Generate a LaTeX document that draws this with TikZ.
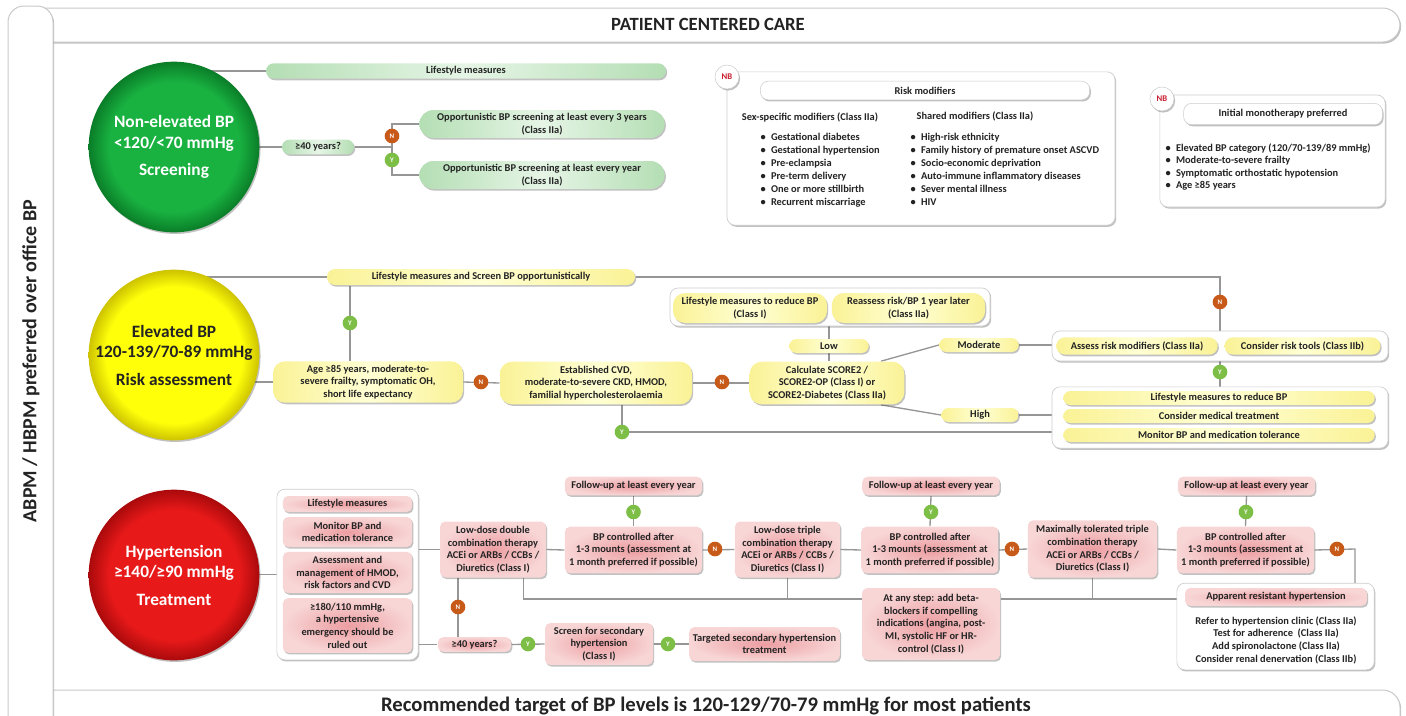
\documentclass[tikz,border=0pt]{standalone}
\usepackage{fontspec}
\setmainfont{Carlito}
\usetikzlibrary{shapes.misc,shadows,backgrounds}

\definecolor{linegray}{RGB}{150,150,150}
\definecolor{framegray}{RGB}{200,200,200}
\definecolor{txt}{RGB}{35,35,35}
\definecolor{cGa}{RGB}{25,178,65}
\definecolor{cGb}{RGB}{10,125,40}
\definecolor{cYa}{RGB}{255,255,10}
\definecolor{cYb}{RGB}{205,195,0}
\definecolor{cRa}{RGB}{232,25,25}
\definecolor{cRb}{RGB}{170,10,12}
\definecolor{gboxA}{RGB}{180,222,180}
\definecolor{gboxB}{RGB}{230,245,230}
\definecolor{yboxA}{RGB}{250,242,150}
\definecolor{yboxB}{RGB}{255,255,212}
\definecolor{rboxIn}{RGB}{236,158,162}
\definecolor{rboxOut}{RGB}{248,214,214}
\definecolor{grpdraw}{RGB}{205,205,205}
\definecolor{markN}{RGB}{200,90,25}
\definecolor{markY}{RGB}{125,190,70}
\definecolor{nbred}{RGB}{200,30,45}

\pgfdeclareradialshading{discG}{\pgfpoint{0bp}{0bp}}{color(0bp)=(cGa); color(19bp)=(cGa); color(25bp)=(cGb); color(50bp)=(cGb)}
\pgfdeclareradialshading{discY}{\pgfpoint{0bp}{0bp}}{color(0bp)=(cYa); color(20bp)=(cYa); color(25bp)=(cYb); color(50bp)=(cYb)}
\pgfdeclareradialshading{discR}{\pgfpoint{0bp}{0bp}}{color(0bp)=(cRa); color(19bp)=(cRa); color(25bp)=(cRb); color(50bp)=(cRb)}

\newcommand{\boxfont}{\fontsize{7.8}{9.5}\selectfont\bfseries}
\newcommand{\listfont}{\fontsize{7.8}{9.7}\selectfont\bfseries}
\newcommand{\circfont}{\fontsize{13}{15.5}\selectfont\bfseries}
\newcommand{\markfont}{\fontsize{5.2}{5.2}\selectfont\bfseries}
\newcommand{\itm}{\textbullet\hspace{4pt}}

\tikzset{every picture/.style={line width=0.75pt}}
\tikzset{
  conn/.style={draw=linegray, line width=1pt},
  shad/.style={drop shadow={shadow xshift=0.9pt, shadow yshift=-1.2pt, opacity=0.35, fill=black!70}},
  bx/.style={font=\boxfont, text=txt, align=center, inner sep=1pt, shad},
  plain/.style={font=\boxfont, text=txt, inner sep=0.75pt},
  gpill/.style={bx, rounded rectangle, left color=gboxA, right color=gboxA, middle color=gboxB},
  ypill/.style={bx, rounded rectangle, left color=yboxA, right color=yboxA, middle color=yboxB},
  ybox/.style={bx, rectangle, rounded corners=9pt, left color=yboxA, right color=yboxA, middle color=yboxB},
  rbox/.style={bx, rectangle, rounded corners=4pt, shading=radial, inner color=rboxIn, outer color=rboxOut},
  wbox/.style={bx, rectangle, rounded corners=6pt, fill=white, draw=grpdraw, line width=0.4pt},
  grpbox/.style={rectangle, rounded corners=6pt, fill=white, draw=grpdraw, line width=0.5pt, shad, inner sep=0pt},
  bigcirc/.style={circle, minimum size=128pt, font=\circfont, align=center, inner sep=0pt, shad},
  nmark/.style={circle, fill=markN, text=white, font=\markfont, inner sep=0pt, minimum size=11pt},
  ymark/.style={circle, fill=markY, text=white, font=\markfont, inner sep=0pt, minimum size=11pt},
  nbmark/.style={circle, fill=white, draw=grpdraw, line width=0.4pt, text=nbred, font=\fontsize{6.5}{6.5}\selectfont\bfseries, inner sep=0pt, minimum size=18pt, shad}
}

\begin{document}
\begin{tikzpicture}[x=0.75pt,y=0.75pt,yscale=-1,xscale=1]
\useasboundingbox (0,0) rectangle (1406,715);

%Shape: top bar
\draw [fill=white, draw=framegray, rounded corners=13pt, shad] (30,8) -- (1400,8) -- (1400,42) -- (30,42) -- cycle ;
%Shape: bottom bar
\draw [fill=white, draw=framegray, rounded corners=13pt, shad] (30,690) -- (1400,690) -- (1400,745) -- (30,745) -- cycle ;
%Shape: side panel
\draw [fill=white, draw=framegray, rounded corners=12pt, shad] (8,6) -- (53,6) -- (53,735) -- (8,735) -- cycle ;

% Text Node
\node (title) [font=\fontsize{14}{16}\selectfont\bfseries, text=txt] at (708,24) {PATIENT CENTERED CARE};
% Text Node
\node (side) [rotate=90, font=\fontsize{15}{18}\selectfont\bfseries, text=txt] at (31,361) {ABPM / HBPM preferred over office BP};
% Text Node
\node (target) [font=\fontsize{15.5}{18}\selectfont\bfseries, text=txt] at (706,706) {Recommended target of BP levels is 120-129/70-79 mmHg for most patients};

%Shape: Circle
\node (gcirc) [bigcirc, shading=discG, text=white] at (174,147) {Non-elevated BP\\<120/<70 mmHg\\[5pt]Screening};
%Shape: Circle
\node (ycirc) [bigcirc, shading=discY, text=txt] at (174,355) {Elevated BP\\120-139/70-89 mmHg\\[5pt]Risk assessment};
%Shape: Circle
\node (rcirc) [bigcirc, shading=discR, text=white] at (174,575) {Hypertension\\≥140/≥90 mmHg\\[5pt]Treatment};

% Screening
\node (lifeG) [gpill, minimum width=302pt, minimum height=11.5pt] at (466,71) {Lifestyle measures};
\node (age40G) [gpill, minimum width=56pt, minimum height=11pt] at (318,147) {≥40 years?};
\node (opp3) [gpill, minimum width=186pt, minimum height=21pt] at (542,124) {Opportunistic BP screening at least every 3 years\\(Class IIa)};
\node (opp1) [gpill, minimum width=186pt, minimum height=21pt] at (542,175) {Opportunistic BP screening at least every year\\(Class IIa)};
\node (nG) [nmark] at (392,136) {N};
\node (yG) [ymark] at (392,160) {Y};

% Risk modifiers
\node (rmbox) [grpbox, minimum width=291pt, minimum height=115pt] at (921,148.5) {};
\node (nb1) [nbmark] at (727,77) {NB};
\node (rmtitle) [wbox, minimum width=247pt, minimum height=14pt] at (925,90.5) {Risk modifiers};
\node (sexhead) [plain] at (810,117) {Sex-specific modifiers (Class IIa)};
\node (sharedhead) [plain] at (975,116) {Shared modifiers (Class IIa)};
\node (sexlist) [plain, font=\listfont, anchor=north west, align=left] at (759,132) {\itm Gestational diabetes\\\itm Gestational hypertension\\\itm Pre-eclampsia\\\itm Pre-term delivery\\\itm One or more stillbirth\\\itm Recurrent miscarriage};
\node (sharedlist) [plain, font=\listfont, anchor=north west, align=left] at (909,132) {\itm High-risk ethnicity\\\itm Family history of premature onset ASCVD\\\itm Socio-economic deprivation\\\itm Auto-immune inflammatory diseases\\\itm Sever mental illness\\\itm HIV};

% Initial monotherapy
\node (imbox) [grpbox, minimum width=169pt, minimum height=84pt] at (1272.5,151) {};
\node (nb2) [nbmark] at (1162,99) {NB};
\node (imtitle) [wbox, minimum width=149pt, minimum height=16pt] at (1283,114) {Initial monotherapy preferred};
\node (imlist) [plain, font=\fontsize{7.8}{9.3}\selectfont\bfseries, anchor=north west, align=left] at (1164,142) {\itm Elevated BP category (120/70-139/89 mmHg)\\\itm Moderate-to-severe frailty\\\itm Symptomatic orthostatic hypotension\\\itm Age ≥85 years};

% Risk assessment
\node (lifeY) [ypill, minimum width=233pt, minimum height=12pt] at (481,277) {Lifestyle measures and Screen BP opportunistically};
\node (age85) [ybox, minimum width=142.5pt, minimum height=31pt] at (368,382) {Age ≥85 years, moderate-to-\\severe frailty, symptomatic OH,\\short life expectancy};
\node (cvd) [ybox, minimum width=144pt, minimum height=32pt] at (596,383) {Established CVD,\\moderate-to-severe CKD, HMOD,\\familial hypercholesterolaemia};
\node (score) [ybox, minimum width=116pt, minimum height=32pt] at (827,383) {Calculate SCORE2 /\\SCORE2-OP (Class I) or\\SCORE2-Diabetes (Class IIa)};
\node (low) [ypill, minimum width=61.5pt, minimum height=10.5pt] at (829,346) {Low};
\node (lowgrp) [grpbox, minimum width=240pt, minimum height=28.5pt] at (830,307) {};
\node (lifelow) [ybox, minimum width=115.5pt, minimum height=22.5pt] at (750,308) {Lifestyle measures to reduce BP\\(Class I)};
\node (reass) [ybox, minimum width=115pt, minimum height=22.5pt] at (908.5,308) {Reassess risk/BP 1 year later\\(Class IIa)};
\node (mod) [ypill, minimum width=61.5pt, minimum height=10.5pt] at (979,345) {Moderate};
\node (modgrp) [grpbox, minimum width=252pt, minimum height=22.5pt] at (1220,346) {};
\node (assess) [ypill, minimum width=123pt, minimum height=13pt] at (1137,346) {Assess risk modifiers (Class IIa)};
\node (tools) [ypill, minimum width=119pt, minimum height=13pt] at (1302.5,346) {Consider risk tools (Class IIb)};
\node (high) [ypill, minimum width=60pt, minimum height=10.5pt] at (980,415) {High};
\node (highgrp) [grpbox, minimum width=252pt, minimum height=46pt] at (1220,417.5) {};
\node (hi1) [ypill, minimum width=235.5pt, minimum height=10.5pt] at (1219,398) {Lifestyle measures to reduce BP};
\node (hi2) [ypill, minimum width=235.5pt, minimum height=10.5pt] at (1219,416) {Consider medical treatment};
\node (hi3) [ypill, minimum width=235.5pt, minimum height=10.5pt] at (1219,435) {Monitor BP and medication tolerance};
\node (yA) [ymark] at (350,323) {Y};
\node (nA) [nmark] at (481,382) {N};
\node (nB) [nmark] at (722,382) {N};
\node (yB) [ymark] at (622,432) {Y};
\node (nC) [nmark] at (1220,302) {N};
\node (yC) [ymark] at (1220,372) {Y};

% Treatment
\node (rgrp) [grpbox, minimum width=106pt, minimum height=128pt] at (347.5,574.5) {};
\node (rb1) [rbox, minimum width=97pt, minimum height=12pt] at (347.5,504) {Lifestyle measures};
\node (rb2) [rbox, minimum width=97pt, minimum height=22.5pt] at (347.5,532) {Monitor BP and\\medication tolerance};
\node (rb3) [rbox, minimum width=97pt, minimum height=31pt] at (347.5,572.5) {Assessment and\\management of HMOD,\\risk factors and CVD};
\node (rb4) [rbox, minimum width=97pt, minimum height=41pt] at (347.5,625.5) {≥180/110 mmHg,\\a hypertensive\\emergency should be\\ruled out};
\node (dbl) [rbox, minimum width=79.5pt, minimum height=42pt] at (493,549.5) {Low-dose double\\combination therapy\\ACEi or ARBs / CCBs /\\Diuretics (Class I)};
\node (age40R) [rbox, minimum width=55pt, minimum height=11pt] at (474.5,644.5) {≥40 years?};
\node (scr) [rbox, minimum width=81pt, minimum height=31.5pt] at (599,644) {Screen for secondary\\hypertension\\(Class I)};
\node (tgt) [rbox, minimum width=113pt, minimum height=25.5pt] at (764.5,644) {Targeted secondary hypertension\\treatment};
\node (fu1) [rbox, minimum width=103pt, minimum height=14pt] at (633.5,486) {Follow-up at least every year};
\node (ctl1) [rbox, minimum width=103pt, minimum height=35pt] at (633.5,550) {BP controlled after\\1-3 mounts (assessment at\\1 month preferred if possible)};
\node (tri) [rbox, minimum width=79pt, minimum height=42pt] at (787.5,549.5) {Low-dose triple\\combination therapy\\ACEi or ARBs / CCBs /\\Diuretics (Class I)};
\node (fu2) [rbox, minimum width=103pt, minimum height=14pt] at (931,486) {Follow-up at least every year};
\node (ctl2) [rbox, minimum width=103pt, minimum height=35pt] at (930,550) {BP controlled after\\1-3 mounts (assessment at\\1 month preferred if possible)};
\node (maxt) [rbox, minimum width=97pt, minimum height=43pt] at (1092.5,549) {Maximally tolerated triple\\combination therapy\\ACEi or ARBs / CCBs /\\Diuretics (Class I)};
\node (fu3) [rbox, minimum width=103pt, minimum height=14pt] at (1246.5,486) {Follow-up at least every year};
\node (ctl3) [rbox, minimum width=103pt, minimum height=35pt] at (1245.5,550) {BP controlled after\\1-3 mounts (assessment at\\1 month preferred if possible)};
\node (beta) [rbox, minimum width=103.5pt, minimum height=54pt] at (931,624) {At any step: add beta-\\blockers if compelling\\indications (angina, post-\\MI, systolic HF or HR-\\control (Class I)};
\node (argrp) [grpbox, minimum width=148pt, minimum height=65pt] at (1275.5,626.5) {};
\node (artitle) [rbox, minimum width=136.5pt, minimum height=13.5pt] at (1276,597) {Apparent resistant hypertension};
\node (artext) [plain, align=center] at (1276,640) {Refer to hypertension clinic (Class IIa)\\Test for adherence~~(Class IIa)\\Add spironolactone (Class IIa)\\Consider renal denervation (Class IIb)};
\node (nD) [nmark] at (458,607) {N};
\node (yD) [ymark] at (528,644) {Y};
\node (yE) [ymark] at (668,644) {Y};
\node (yF) [ymark] at (633.5,512) {Y};
\node (nE) [nmark] at (715,549) {N};
\node (yG2) [ymark] at (931,512) {Y};
\node (nF) [nmark] at (1012,549) {N};
\node (yH) [ymark] at (1246,512) {Y};
\node (nG2) [nmark] at (1337,549) {N};
\coordinate (argate) at (1355,549);
\coordinate (steprow) at (700,599);

\begin{pgfonlayer}{background}
%Straight Lines
\draw [conn] (lifeG.west) -- (lifeG.west -| gcirc.center) ;
\draw [conn] (age40G.west) -- (age40G.west -| gcirc.center) ;
\draw [conn] (age40G.east) -- (age40G.east -| nG) ;
\draw [conn] (opp3.west) -| (nG.center) -- (yG.center) |- (opp1.west) ;
%Straight Lines
\draw [conn] (lifeY.west) -- (lifeY.west -| ycirc.center) ;
\draw [conn] (age85.west) -- (age85.west -| ycirc.center) ;
\draw [conn] (yA |- lifeY.south) -- (yA |- age85.north) ;
\draw [conn] (lifeY.east) -| (modgrp.north) ;
\draw [conn] (age85.east) -- (cvd.west) ;
\draw [conn] (cvd.east) -- (score.west) ;
\draw [conn] (yB |- cvd.south) |- (highgrp.west |- yB) ;
\draw [conn] (score.north -| low) -- (lowgrp.south -| low) ;
\draw [conn] (score.22) -- (mod.west) ;
\draw [conn] (mod.east) -- (modgrp.west |- mod) ;
\draw [conn] (score.-22) -- (high.west) ;
\draw [conn] (high.east) -- (highgrp.west |- high) ;
\draw [conn] (modgrp.south) -- (highgrp.north) ;
%Straight Lines
\draw [conn] (rgrp.west -| rcirc.center) -- (rgrp.west) ;
\draw [conn] (rgrp.east |- dbl) -- (dbl.west) ;
\draw [conn] (rgrp.east |- age40R) -- (age40R.west) ;
\draw [conn] (nD |- dbl.south) -- (nD |- age40R.north) ;
\draw [conn] (age40R.east) -- (scr.west) ;
\draw [conn] (scr.east) -- (tgt.west) ;
\draw [conn] (dbl.east) -- (ctl1.west) ;
\draw [conn] (fu1.south) -- (ctl1.north) ;
\draw [conn] (ctl1.east) -- (tri.west) ;
\draw [conn] (tri.east) -- (ctl2.west) ;
\draw [conn] (fu2.south) -- (ctl2.north) ;
\draw [conn] (ctl2.east) -- (maxt.west) ;
\draw [conn] (maxt.east) -- (ctl3.west) ;
\draw [conn] (fu3.south) -- (ctl3.north) ;
\draw [conn] (ctl3.east) -- (argate) -- (argate |- argrp.north) ;
\draw [conn] (dbl.-43) |- (steprow -| beta.west) ;
\draw [conn] (tri.south) -- (tri.south |- steprow) ;
\draw [conn] (beta.east |- steprow) -- (argrp.west |- steprow) ;
\draw [conn] (maxt.south) -- (maxt.south |- steprow) ;
\end{pgfonlayer}

\end{tikzpicture}
\end{document}
